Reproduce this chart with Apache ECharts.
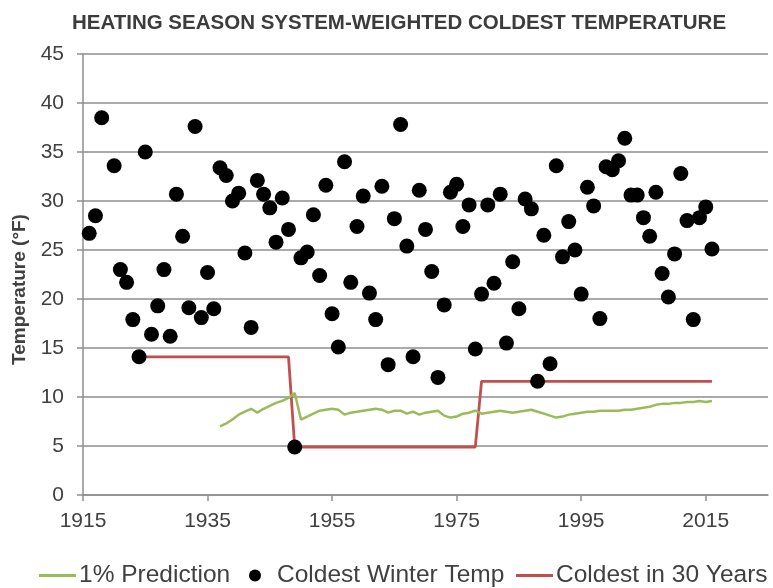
<!DOCTYPE html>
<html>
<head>
<meta charset="utf-8">
<title>Heating Season System-Weighted Coldest Temperature</title>
<script src="https://cdn.jsdelivr.net/npm/echarts@6/dist/echarts.min.js"></script>
<style>
  html, body { margin: 0; padding: 0; background: #ffffff; }
  #chart { width: 773px; height: 588px; }
</style>
</head>
<body>
<div id="chart"></div>
<script>
// First year on the horizontal axis; years are plotted as offsets from it
const AXIS_START_YEAR = 1915;
const AXIS_END_YEAR = 2025;
const YEAR_STEP = 20;

// Coldest winter temperature per heating season (°F); 1919 has no reading
const winterYears = [
  1916, 1917, 1918, 1920, 1921, 1922, 1923, 1924, 1925, 1926,
  1927, 1928, 1929, 1930, 1931, 1932, 1933, 1934, 1935, 1936,
  1937, 1938, 1939, 1940, 1941, 1942, 1943, 1944, 1945, 1946,
  1947, 1948, 1949, 1950, 1951, 1952, 1953, 1954, 1955, 1956,
  1957, 1958, 1959, 1960, 1961, 1962, 1963, 1964, 1965, 1966,
  1967, 1968, 1969, 1970, 1971, 1972, 1973, 1974, 1975, 1976,
  1977, 1978, 1979, 1980, 1981, 1982, 1983, 1984, 1985, 1986,
  1987, 1988, 1989, 1990, 1991, 1992, 1993, 1994, 1995, 1996,
  1997, 1998, 1999, 2000, 2001, 2002, 2003, 2004, 2005, 2006,
  2007, 2008, 2009, 2010, 2011, 2012, 2013, 2014, 2015, 2016
];
const winterTemps = [
  26.7, 28.5, 38.5, 33.6, 23.0, 21.7, 17.9, 14.1, 35.0, 16.4,
  19.3, 23.0, 16.2, 30.7, 26.4, 19.1, 37.6, 18.1, 22.7, 19.0,
  33.4, 32.6, 30.0, 30.8, 24.7, 17.1, 32.1, 30.7, 29.3, 25.8,
  30.3, 27.1, 4.9, 24.2, 24.8, 28.6, 22.4, 31.6, 18.5, 15.1,
  34.0, 21.7, 27.4, 30.5, 20.6, 17.9, 31.5, 13.3, 28.2, 37.8,
  25.4, 14.1, 31.1, 27.1, 22.8, 12.0, 19.4, 30.9, 31.7, 27.4,
  29.6, 14.9, 20.5, 29.6, 21.6, 30.7, 15.5, 23.8, 19.0, 30.2,
  29.2, 11.6, 26.5, 13.4, 33.6, 24.3, 27.9, 25.0, 20.5, 31.4,
  29.5, 18.0, 33.5, 33.2, 34.1, 36.4, 30.6, 30.6, 28.3, 26.4,
  30.9, 22.6, 20.2, 24.6, 32.8, 28.0, 17.9, 28.3, 29.4, 25.1
];

// 1% prediction (°F)
const predictionYears = [
  1937, 1938, 1939, 1940, 1941, 1942, 1943, 1944, 1945, 1946,
  1947, 1948, 1949, 1950, 1951, 1952, 1953, 1954, 1955, 1956,
  1957, 1958, 1959, 1960, 1961, 1962, 1963, 1964, 1965, 1966,
  1967, 1968, 1969, 1970, 1971, 1972, 1973, 1974, 1975, 1976,
  1977, 1978, 1979, 1980, 1981, 1982, 1983, 1984, 1985, 1986,
  1987, 1988, 1989, 1990, 1991, 1992, 1993, 1994, 1995, 1996,
  1997, 1998, 1999, 2000, 2001, 2002, 2003, 2004, 2005, 2006,
  2007, 2008, 2009, 2010, 2011, 2012, 2013, 2014, 2015, 2016
];
const predictionTemps = [
  7.0, 7.3, 7.7, 8.2, 8.5, 8.8, 8.4, 8.8, 9.1, 9.4,
  9.6, 9.9, 10.4, 7.7, 8.0, 8.3, 8.6, 8.7, 8.8, 8.7,
  8.2, 8.4, 8.5, 8.6, 8.7, 8.8, 8.7, 8.4, 8.6, 8.6,
  8.3, 8.5, 8.2, 8.4, 8.5, 8.6, 8.1, 7.9, 8.0, 8.3,
  8.4, 8.6, 8.3, 8.4, 8.5, 8.6, 8.5, 8.4, 8.5, 8.6,
  8.7, 8.5, 8.3, 8.1, 7.9, 8.0, 8.2, 8.3, 8.4, 8.5,
  8.5, 8.6, 8.6, 8.6, 8.6, 8.7, 8.7, 8.8, 8.9, 9.0,
  9.2, 9.3, 9.3, 9.4, 9.4, 9.5, 9.5, 9.6, 9.5, 9.6
];

// Coldest temperature in 30 years: the steps of the line
const coldest30Years = [1924, 1948, 1949, 1978, 1979, 2016];
const coldest30Temps = [14.1, 14.1, 4.9, 4.9, 11.6, 11.6];

const TEXT_COLOR = '#404040';
const GRID_COLOR = '#8e8e8e';
const GREEN = '#9bbb59';
const RED = '#c0504d';
// Plain stroke used as the legend key of the two line series
const LINE_KEY = 'path://M0,0L40,0L40,3L0,3Z';

const LEGEND_TEXT = {
  fontFamily: 'Liberation Sans',
  fontSize: 24.5,
  color: TEXT_COLOR
};

function pairs(years, temps) {
  return years.map((y, i) => [y - AXIS_START_YEAR, temps[i]]);
}

// One legend block per series so each key sits at its own spot in the row
function legendBlock(name, icon, left, width, textGap) {
  return {
    top: 558,
    left: left,
    itemWidth: width,
    itemHeight: 12,
    textStyle: Object.assign({ padding: [0, 0, 0, textGap] }, LEGEND_TEXT),
    data: [{ name: name, icon: icon }]
  };
}

const chart = echarts.init(document.getElementById('chart'), null, { renderer: 'canvas' });

chart.setOption({
  backgroundColor: '#ffffff',
  animation: false,
  title: {
    text: 'HEATING SEASON SYSTEM-WEIGHTED COLDEST TEMPERATURE',
    left: 394,
    textAlign: 'center',
    top: 8,
    textStyle: {
      fontFamily: 'Liberation Sans',
      fontWeight: 'bold',
      fontSize: 20.5,
      color: '#3c3c3c'
    }
  },
  grid: {
    left: 83,
    right: 5,
    top: 54,
    bottom: 93
  },
  legend: [
    legendBlock('1% Prediction', LINE_KEY, 34, 37, -2),
    legendBlock('Coldest Winter Temp', 'circle', 244, 12, 11),
    legendBlock('Coldest in 30 Years', LINE_KEY, 511, 37, -2)
  ],
  xAxis: {
    type: 'value',
    min: 0,
    max: AXIS_END_YEAR - AXIS_START_YEAR,
    interval: YEAR_STEP,
    axisLine: { show: true, lineStyle: { color: GRID_COLOR, width: 1.5 } },
    axisTick: { show: true, length: 6, lineStyle: { color: GRID_COLOR, width: 1.5 } },
    splitLine: { show: false },
    axisLabel: {
      showMaxLabel: false,
      margin: 16,
      fontFamily: 'Liberation Sans',
      fontSize: 21,
      color: TEXT_COLOR,
      formatter: v => String(v + AXIS_START_YEAR)
    }
  },
  yAxis: {
    type: 'value',
    min: 0,
    max: 45,
    interval: 5,
    name: 'Temperature (°F)',
    nameLocation: 'middle',
    nameRotate: 90,
    nameGap: 52,
    nameTextStyle: {
      fontFamily: 'Liberation Sans',
      fontWeight: 'bold',
      fontSize: 19,
      color: TEXT_COLOR,
      padding: [0, 30, 0, 0]
    },
    axisLine: { show: true, lineStyle: { color: GRID_COLOR, width: 1.5 } },
    axisTick: { show: true, length: 6, lineStyle: { color: GRID_COLOR, width: 1.5 } },
    splitLine: { show: true, lineStyle: { color: GRID_COLOR, width: 1.5 } },
    axisLabel: {
      margin: 19,
      fontFamily: 'Liberation Sans',
      fontSize: 21,
      color: TEXT_COLOR
    }
  },
  series: [
    {
      name: '1% Prediction',
      type: 'line',
      data: pairs(predictionYears, predictionTemps),
      symbol: 'none',
      lineStyle: { color: GREEN, width: 2.5 },
      itemStyle: { color: GREEN },
      z: 3
    },
    {
      name: 'Coldest Winter Temp',
      type: 'scatter',
      data: pairs(winterYears, winterTemps),
      symbol: 'circle',
      symbolSize: 15,
      itemStyle: { color: '#000000', opacity: 1 },
      z: 5
    },
    {
      name: 'Coldest in 30 Years',
      type: 'line',
      data: pairs(coldest30Years, coldest30Temps),
      symbol: 'none',
      lineStyle: { color: RED, width: 2.8 },
      itemStyle: { color: RED },
      z: 2
    }
  ]
});
</script>
</body>
</html>
